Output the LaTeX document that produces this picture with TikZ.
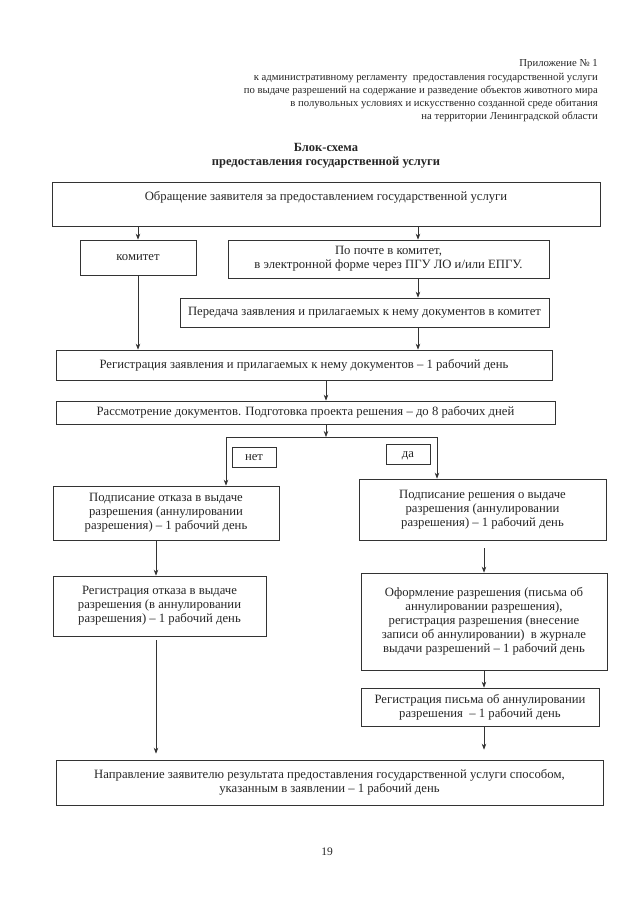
\documentclass[tikz,border=0pt]{standalone}
\usepackage{fontspec}
\setmainfont{Liberation Serif}
\usetikzlibrary{arrows.meta}
\begin{document}
\begin{tikzpicture}[x=1pt,y=-1pt,
  box/.style={draw=black!80,line width=0.7pt,rectangle,align=center,inner sep=0pt,
    font=\fontsize{12.7}{14}\selectfont,text=black!85},
  one/.style={text height=9pt,text depth=3pt},
  arr/.style={draw=black!80,line width=0.7pt,-{Stealth[length=6pt,width=4.5pt]}},
  ln/.style={draw=black!80,line width=0.7pt}]
\useasboundingbox[fill=white] (0,0) rectangle (640,905);
% header
\node[anchor=north east,align=right,inner sep=0pt,font=\fontsize{10.7}{13}\selectfont,text=black!85] (hdr) at (598,59)
  {Приложение № 1\\[1.5pt]
   к административному регламенту \ предоставления государственной услуги\\
   по выдаче разрешений на содержание и разведение объектов животного мира\\
   в полувольных условиях и искусственно созданной среде обитания\\
   на территории Ленинградской области};
\node[align=center,inner sep=0pt,font=\bfseries\fontsize{12.5}{13.5}\selectfont,text=black!85] (ttl) at (326,156)
  {Блок-схема\\предоставления государственной услуги};
% boxes
\node[box,minimum width=548,minimum height=44,
  label={[anchor=north,yshift=-10pt,inner sep=0pt,font=\fontsize{12.7}{14}\selectfont,text=black!85]north:Обращение заявителя за предоставлением государственной услуги}] (b1) at (326,204) {};
\node[box,one,minimum width=116,minimum height=35] (kom) at (138,257.5) {комитет};
\node[box,minimum width=321,minimum height=38] (post) at (388.5,259) {По почте в комитет,\\ в электронной форме через ПГУ ЛО и/или ЕПГУ.};
\node[box,one,minimum width=369,minimum height=29] (pered) at (364.5,312.5) {Передача заявления и прилагаемых к нему документов в комитет};
\node[box,one,minimum width=496,minimum height=30] (reg) at (304,365) {Регистрация заявления и прилагаемых к нему документов -- 1 рабочий день};
\node[box,one,minimum width=499,minimum height=23] (rass) at (305.5,412.5) {Рассмотрение документов. Подготовка проекта решения -- до 8 рабочих дней};
\node[box,one,minimum width=44,minimum height=20] (net) at (254,457) {нет};
\node[box,one,minimum width=44,minimum height=20] (da) at (408,454) {да};
\node[box,minimum width=226,minimum height=54] (otk) at (166,513) {Подписание отказа в выдаче\\ разрешения (аннулировании\\ разрешения) -- 1 рабочий день};
\node[box,minimum width=247,minimum height=61] (resh) at (482.5,509.5) {Подписание решения о выдаче\\ разрешения (аннулировании\\ разрешения) -- 1 рабочий день};
\node[box,minimum width=213,minimum height=60] (regotk) at (159.5,606) {Регистрация отказа в выдаче\\ разрешения (в аннулировании\\ разрешения) -- 1 рабочий день};
\node[box,minimum width=246,minimum height=97] (oform) at (484,621.5) {Оформление разрешения (письма об\\ аннулировании разрешения),\\ регистрация разрешения (внесение\\ записи об аннулировании) \ в журнале\\ выдачи разрешений -- 1 рабочий день};
\node[box,minimum width=238,minimum height=38] (regpis) at (480,707) {Регистрация письма об аннулировании\\ разрешения \ -- 1 рабочий день};
\node[box,minimum width=547,minimum height=45] (napr) at (329.5,782.5) {Направление заявителю результата предоставления государственной услуги способом,\\ указанным в заявлении -- 1 рабочий день};
\node[inner sep=0pt,font=\fontsize{11.5}{12}\selectfont,text=black!85] (pg) at (327,852) {19};
% helper coordinates
\coordinate (xa) at (418,0);
\coordinate (xb) at (326,0);
\coordinate (xc) at (156,0);
\coordinate (xd) at (484,0);
\coordinate (j) at (326,437);
\coordinate (jl) at (226,437);
\coordinate (jr) at (437,437);
% connectors
\draw[arr] (b1.south -| kom.north) -- (kom.north);
\draw[arr] (b1.south -| xa) -- (post.north -| xa);
\draw[arr] (post.south -| xa) -- (pered.north -| xa);
\draw[arr] (kom.south) -- (reg.north -| kom.south);
\draw[arr] (pered.south -| xa) -- (reg.north -| xa);
\draw[arr] (reg.south -| xb) -- (rass.north -| xb);
\draw[arr] (rass.south -| xb) -- (j);
\draw[ln] (jl) -- (jr);
\draw[arr] (jl) -- (otk.north -| jl);
\draw[arr] (jr) -- (resh.north -| jr);
\draw[arr] (otk.south -| xc) -- (regotk.north -| xc);
\draw[arr] ([yshift=-8pt]resh.south -| xd) -- (oform.north -| xd);
\draw[arr] (oform.south -| xd) -- (regpis.north -| xd);
\draw[arr] (regpis.south -| xd) -- ([yshift=10pt]napr.north -| xd);
\draw[arr] ([yshift=-4pt]regotk.south -| xc) -- ([yshift=6pt]napr.north -| xc);
\end{tikzpicture}
\end{document}
